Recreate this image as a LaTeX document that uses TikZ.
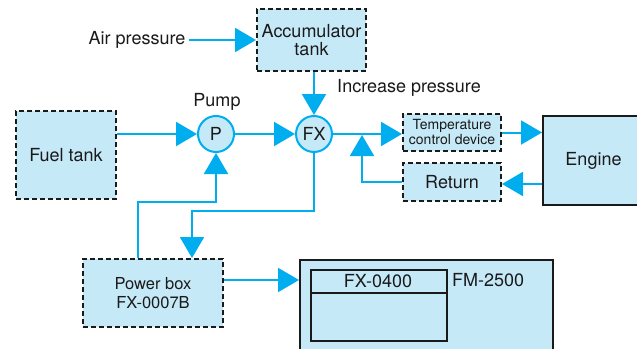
\documentclass[tikz,border=0pt]{standalone}
\usepackage{fontspec}
\setmainfont{TeX Gyre Heros}
\usetikzlibrary{arrows.meta,calc}
\definecolor{boxfill}{HTML}{C6E9F8}
\definecolor{flow}{HTML}{00AEEF}
\definecolor{ink}{HTML}{1A1A1A}
\begin{document}
\begin{tikzpicture}[x=1pt,y=-1pt,
  every node/.style={text=ink,font=\fontsize{18}{21}\selectfont},
  dbox/.style={draw=ink,line width=2pt,dash pattern=on 5pt off 3pt,fill=boxfill,inner sep=0pt,align=center},
  sbox/.style={draw=ink,line width=2pt,fill=boxfill,inner sep=0pt,align=center},
  valve/.style={circle,draw=flow,line width=2pt,fill=boxfill,minimum size=36pt,inner sep=0pt},
  flowline/.style={draw=flow,line width=2pt},
  flowarrow/.style={flowline,-{Triangle[length=21pt,width=24pt]}},
  plain/.style={inner sep=2pt}
]
\useasboundingbox (0,0) rectangle (637,348);
\begin{scope}
\clip (0,0) rectangle (637,348);
% boxes
\node[dbox,minimum width=100pt,minimum height=88pt] (fuel) at (66,155) {Fuel tank};
\node[dbox,minimum width=109pt,minimum height=62pt] (acc) at (311.5,40) {Accumulator\\[-3pt]tank};
\node[dbox,minimum width=98pt,minimum height=37pt,font=\fontsize{14}{15}\selectfont] (temp) at (452,132.5) {Temperature\\control device};
\node[dbox,minimum width=98pt,minimum height=38pt] (ret) at (452,182) {Return};
\node[sbox,minimum width=101pt,minimum height=89pt] (eng) at (593.5,160.5) {Engine};
\node[dbox,minimum width=140pt,minimum height=68pt,font=\fontsize{16.5}{19}\selectfont] (pwr) at (153,293) {Power box\\FX-0007B};
\node[sbox,minimum width=253pt,minimum height=110pt,anchor=north west] (fm) at (299,259) {};
\node[draw=ink,line width=2pt,minimum width=136pt,minimum height=71pt,anchor=north west,inner sep=0pt] (inner) at (310,269) {};
\draw[ink,line width=2pt] (310,293) -- (446,293);
\node (fx0400) at (378,281) {FX-0400};
\node[anchor=west,plain] (fmlabel) at (450,280) {FM-2500};
% valves
\node[valve] (p) at (216,134) {P};
\node[valve] (fx) at (314,134) {FX};
% labels
\node (pumplabel) at (217,102) {Pump};
\node[plain] (air) at (137,40) {Air pressure};
\node[plain] (inc) at (409,88) {Increase pressure};
% helper coordinates
\coordinate (j) at (362,134);
\coordinate (k1) at (138,202);
\coordinate (k2) at (192,211);
\coordinate (k3) at (260,280);
% connectors
\draw[flowarrow] ($(air.east)+(1,0)$) -- (acc.west);
\draw[flowarrow] (fx.north |- acc.south) -- (fx.north);
\draw[flowarrow] (fuel.east |- p) -- (p.west);
\draw[flowarrow] (p.east) -- (fx.west);
\draw[flowarrow] (fx.east) -- (fx.east -| temp.west);
\draw[flowarrow] (temp.east) -- (temp.east -| eng.west);
\draw[flowarrow] (eng.west |- 0,184) -- (ret.east |- 0,184);
\draw[flowarrow] (ret.west) -| ($(j)+(0,1)$);
\draw[flowarrow] (k1 |- pwr.north) -- (k1) -| (p.south);
\draw[flowarrow] (fx.south) |- (k2) -- (k2 |- pwr.north);
\draw[flowarrow] (k3 -| pwr.east) -- (k3 -| fm.west);
\end{scope}
\end{tikzpicture}
\end{document}
